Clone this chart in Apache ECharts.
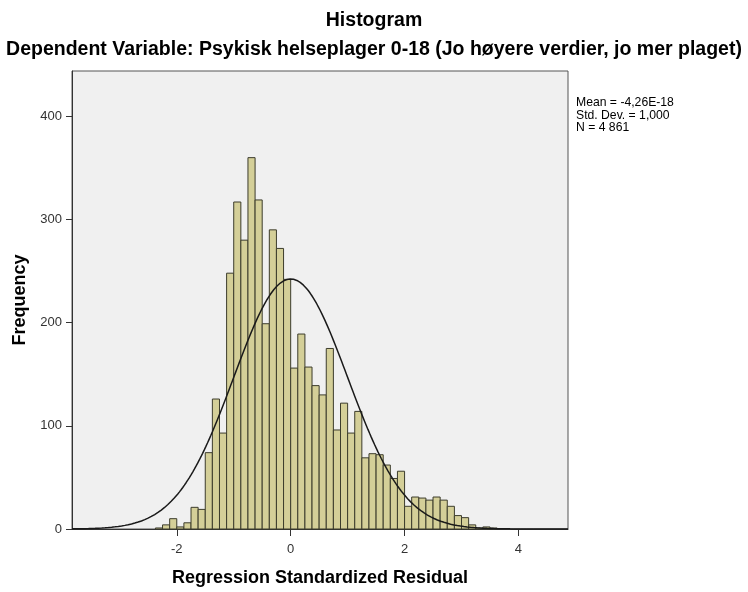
<!DOCTYPE html>
<html>
<head>
<meta charset="utf-8">
<script src="https://cdn.jsdelivr.net/npm/echarts@6/dist/echarts.min.js"></script>
<style>
  html, body { margin: 0; padding: 0; background: #fff; }
  #chart { width: 748px; height: 592px; }
</style>
</head>
<body>
<div id="chart"></div>
<script>
// bin width 0.125, left edges of bins
var binWidth = 0.125;
var binStarts = [-2.375, -2.25, -2.125, -2, -1.875, -1.75, -1.625, -1.5, -1.375, -1.25,
    -1.125, -1, -0.875, -0.75, -0.625, -0.5, -0.375, -0.25, -0.125,
    0, 0.125, 0.25, 0.375, 0.5, 0.625, 0.75, 0.875, 1, 1.125,
    1.25, 1.375, 1.5, 1.625, 1.75, 1.875, 2, 2.125, 2.25, 2.375,
    2.5, 2.625, 2.75, 2.875, 3, 3.125, 3.25, 3.375, 3.5];
var counts = [1, 4, 10, 2, 6, 21, 19, 74, 126, 93,
    248, 317, 280, 360, 319, 199, 290, 272, 242,
    156, 189, 157, 139, 130, 175, 96, 122, 93, 114,
    69, 73, 72, 62, 49, 56, 22, 31, 30, 28,
    31, 28, 22, 13, 11, 4, 1, 2, 1];
var xTicks = [-2, 0, 2, 4];
var yTicks = [0, 100, 200, 300, 400];
var statLines = ['Mean = -4,26E-18', 'Std. Dev. = 1,000', 'N = 4 861'];
var mean = -4.26e-18, sd = 1.0, n = 4861;

var xMin = -3.84, xMax = 4.87;

var barData = [];
for (var i = 0; i < binStarts.length; i++) {
    barData.push([binStarts[i], binStarts[i] + binWidth, counts[i]]);
}

// fitted normal curve
var curve = [];
for (var k = 0; k <= 300; k++) {
    var x = xMin + (xMax - xMin) * k / 300;
    var z = (x - mean) / sd;
    curve.push([x, n * binWidth * Math.exp(-0.5 * z * z) / (sd * Math.sqrt(2 * Math.PI))]);
}

var titleFont = {fontFamily: 'Liberation Sans', fontSize: 19.5, fontWeight: 'bold', color: '#000'};
var nameFont = {fontFamily: 'Liberation Sans', fontSize: 18, fontWeight: 'bold', color: '#000'};

var myChart = echarts.init(document.getElementById('chart'));
myChart.setOption({
    animation: false,
    title: [{
        text: 'Histogram',
        left: 'center',
        top: 6,
        textStyle: titleFont
    }, {
        text: 'Dependent Variable: Psykisk helseplager 0-18 (Jo høyere verdier, jo mer plaget)',
        left: 'center',
        top: 35,
        textStyle: titleFont
    }],
    grid: {
        left: 72,
        right: 180,
        top: 71,
        bottom: 60,
        show: true,
        backgroundColor: '#f0f0f0',
        borderColor: '#555',
        borderWidth: 1
    },
    xAxis: {
        type: 'value',
        min: xMin,
        max: xMax,
        name: 'Regression Standardized Residual',
        nameLocation: 'middle',
        nameGap: 40,
        nameTextStyle: nameFont,
        splitLine: {show: false},
        axisLine: {onZero: false, lineStyle: {color: '#333'}},
        axisTick: {show: true, length: 7, customValues: xTicks, lineStyle: {color: '#333'}},
        axisLabel: {customValues: xTicks, fontFamily: 'Liberation Sans', fontSize: 13, color: '#333', margin: 14}
    },
    yAxis: {
        type: 'value',
        min: 0,
        max: 444,
        name: 'Frequency',
        nameLocation: 'middle',
        nameGap: 43,
        nameRotate: 90,
        nameTextStyle: nameFont,
        splitLine: {show: false},
        axisLine: {show: true, onZero: false, lineStyle: {color: '#333'}},
        axisTick: {show: true, length: 6, customValues: yTicks, lineStyle: {color: '#333'}},
        axisLabel: {customValues: yTicks, fontFamily: 'Liberation Sans', fontSize: 13, color: '#333', margin: 10}
    },
    graphic: statLines.map(function (t, i) {
        return {
            type: 'text',
            left: 576,
            top: 97 + i * 12.3,
            style: {text: t, font: '12.2px "Liberation Sans"', fill: '#000'}
        };
    }),
    series: [{
        type: 'custom',
        data: barData,
        encode: {x: [0, 1], y: 2},
        renderItem: function (params, api) {
            var p0 = api.coord([api.value(0), api.value(2)]);
            var p1 = api.coord([api.value(1), 0]);
            return {
                type: 'rect',
                shape: {x: p0[0], y: p0[1], width: p1[0] - p0[0], height: p1[1] - p0[1]},
                style: {fill: '#d4cf98', stroke: '#3c3c2c', lineWidth: 1}
            };
        }
    }, {
        type: 'line',
        data: curve,
        showSymbol: false,
        symbol: 'none',
        lineStyle: {color: '#1a1a1a', width: 1.5},
        z: 5
    }]
});
</script>
</body>
</html>
